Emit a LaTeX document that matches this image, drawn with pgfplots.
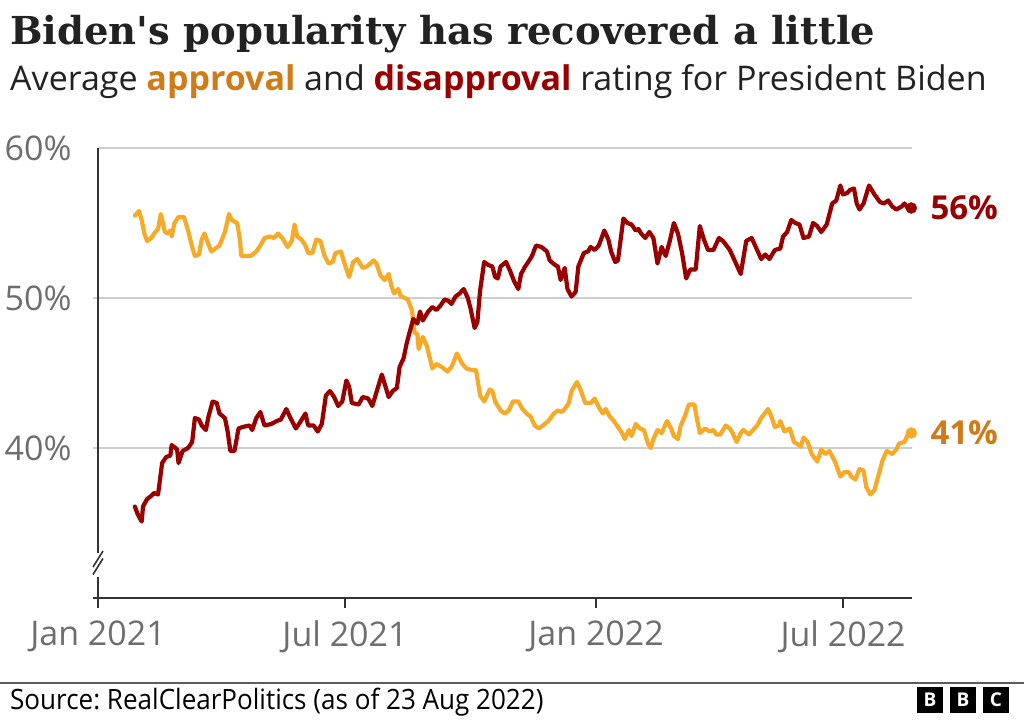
\documentclass[border=0pt]{standalone}
\usepackage{fontspec}
\setmainfont{Open Sans}
\newfontfamily\titlefont{DejaVu Serif}
\newfontfamily\condfont[FakeStretch=0.93]{Open Sans}
\usepackage{pgfplots}
\pgfplotsset{compat=1.18}
\definecolor{appr}{RGB}{247,169,40}
\definecolor{apprtxt}{RGB}{207,124,24}
\definecolor{disa}{RGB}{153,0,0}
\definecolor{gridc}{RGB}{206,206,206}
\definecolor{tickc}{RGB}{110,110,110}
\definecolor{axc}{RGB}{51,51,51}
\definecolor{titlec}{RGB}{34,34,34}
\frenchspacing
\begin{document}
\begin{tikzpicture}
\useasboundingbox (0pt,0pt) rectangle (1024pt,720pt);
\fill[white] (0pt,0pt) rectangle (1024pt,720pt);
% titles
\node[anchor=base west, inner sep=0pt, text=titlec, font=\titlefont\bfseries\fontsize{38.5}{38.5}\selectfont] at (10pt,675pt) {Biden's popularity has recovered a little};
\node[anchor=base west, inner sep=0pt, text=titlec, font=\fontsize{34}{34}\selectfont] at (10pt,629pt) {Average \textcolor{apprtxt}{\bfseries approval} and \textcolor{disa}{\bfseries disapproval} rating for President Biden};
\begin{axis}[
  at={(98pt,122pt)}, anchor=south west, scale only axis,
  width=814pt, height=450pt,
  xmin=0, xmax=596.5, ymin=30, ymax=60,
  axis x line=bottom, axis y line=left,
  axis line style={draw=none},
  clip=false,
  ytick={40,50,60}, yticklabels={40\%,50\%,60\%},
  ymajorgrids, grid style={gridc, line width=1.3pt},
  ytick style={draw=none},
  yticklabel style={font=\fontsize{34}{34}\selectfont, text=tickc, anchor=east, inner sep=0pt, xshift=-22pt},
  xtick={0,181,365,546}, xticklabels={Jan 2021,Jul 2021,Jan 2022,Jul 2022},
  tick align=outside,
  xtick style={draw=axc, line width=1.6pt, /pgfplots/major tick length=10pt},
  xticklabel style={font=\fontsize{34}{34}\selectfont, text=tickc, anchor=north, inner sep=0pt, yshift=-18pt},
]
% axis lines and break
\draw[gridc, line width=1.3pt] (axis cs:0,40) -- ++(-5pt,0pt);
\draw[gridc, line width=1.3pt] (axis cs:0,50) -- ++(-5pt,0pt);
\draw[axc, line width=1.8pt] (axis cs:0,30) ++(-5pt,0pt) -- (axis cs:596.5,30);
\draw[axc, line width=1.8pt] (axis cs:0,60) -- (axis cs:0,33.0);
\draw[axc, line width=1.8pt] (axis cs:0,31.4) -- (axis cs:0,30);
\draw[axc, line width=1.6pt] (axis cs:0,32.6) ++(5pt,8pt) -- ++(-10pt,-16pt);
\draw[axc, line width=1.6pt] (axis cs:0,32.1) ++(5pt,8pt) -- ++(-10pt,-16pt);
% approval
\addplot[appr, line width=4.2pt, line join=round, line cap=round] coordinates {
(27,55.5)(30,55.8)(32,55.2)(34,54.3)(36,53.8)(39,54.0)(42,54.4)(44,54.6)(46,55.6)(49,54.4)(51,54.3)(53,54.5)(54,54.1)(56,55.0)(59,55.4)(63,55.4)(66,54.5)(69,53.4)(71,52.8)(74,52.9)(76,53.9)(78,54.3)(80,53.8)(83,53.1)(86,53.3)(89,53.5)(93,54.4)(96,55.6)(98,55.2)(102,55.0)(104,53.9)(105,52.8)(109,52.8)(112,52.8)(116,53.1)(119,53.5)(122,54.0)(126,54.1)(129,54.0)(132,54.3)(135,54.0)(139,53.4)(142,53.8)(144,54.9)(146,54.1)(149,53.9)(152,53.5)(154,53.0)(157,53.0)(160,53.9)(163,53.8)(166,52.8)(169,52.3)(172,52.4)(174,53.0)(178,53.1)(181,52.2)(184,51.4)(187,52.4)(190,52.6)(194,52.0)(197,52.1)(202,52.5)(204,52.3)(207,51.5)(210,51.2)(213,51.6)(215,50.8)(217,50.3)(220,50.6)(222,50.1)(225,50.0)(227,49.9)(230,49.2)(232,47.7)(234,47.6)(235,46.6)(238,47.4)(241,46.8)(245,45.3)(248,45.6)(252,45.4)(256,45.1)(259,45.4)(263,46.3)(267,45.6)(270,45.3)(274,45.2)(277,45.2)(280,43.5)(283,43.1)(287,43.9)(289,43.8)(291,43.1)(295,42.5)(298,42.3)(301,42.5)(304,43.1)(308,43.1)(311,42.6)(314,42.3)(317,42.1)(320,41.5)(323,41.3)(326,41.5)(330,41.8)(334,42.3)(337,42.5)(340,42.4)(342,42.6)(345,43.0)(347,43.8)(351,44.4)(354,43.8)(357,43.0)(361,43.0)(364,43.3)(367,42.7)(370,42.3)(372,42.6)(375,42.1)(378,41.8)(381,41.4)(384,41.0)(386,40.6)(389,41.2)(391,40.8)(394,41.6)(397,41.3)(400,41.2)(403,40.3)(405,40.0)(407,40.6)(410,41.2)(413,41.0)(417,41.8)(420,41.3)(422,40.8)(425,40.6)(427,41.5)(430,42.1)(433,42.9)(437,42.9)(439,41.9)(441,41.0)(445,41.3)(448,41.1)(451,41.2)(453,40.9)(456,40.9)(460,41.5)(463,41.3)(465,41.0)(468,40.4)(471,41.0)(473,41.2)(477,40.9)(480,41.2)(483,41.5)(486,42.0)(491,42.6)(493,42.2)(496,41.4)(499,41.5)(500,41.8)(503,41.1)(507,41.3)(510,40.4)(512,40.3)(515,40.1)(517,40.7)(520,40.4)(523,39.6)(527,39.1)(530,39.9)(533,39.6)(536,39.8)(540,39.1)(544,38.1)(547,38.4)(550,38.4)(552,38.1)(555,37.9)(558,38.6)(561,38.5)(563,37.4)(566,36.9)(569,37.2)(572,38.2)(575,39.2)(578,39.8)(582,39.6)(585,39.9)(587,40.3)(591,40.4)(594,41.0)(596,41.0)
};
% disapproval
\addplot[disa, line width=4.2pt, line join=round, line cap=round] coordinates {
(27,36.1)(29,35.6)(32,35.1)(33,36.1)(36,36.6)(39,36.8)(41,37.0)(44,36.9)(47,39.0)(50,39.4)(53,39.5)(54,40.2)(58,39.9)(59,39.0)(62,39.8)(66,40.0)(69,40.4)(71,42.0)(74,41.9)(76,41.5)(79,41.2)(81,42.1)(84,43.1)(87,43.0)(89,42.3)(93,42.0)(95,41.1)(97,39.8)(100,39.8)(103,41.3)(106,41.4)(111,41.5)(113,41.2)(116,42.0)(119,42.4)(122,41.5)(127,41.6)(131,41.8)(134,41.9)(138,42.6)(141,42.0)(145,41.3)(148,41.7)(152,42.3)(154,41.5)(158,41.5)(161,41.1)(164,41.6)(167,43.5)(170,43.8)(173,43.4)(176,42.8)(179,43.1)(182,44.5)(184,44.1)(186,43.0)(191,42.9)(194,43.4)(198,43.3)(201,42.8)(204,43.7)(208,44.9)(213,43.4)(216,43.8)(219,44.0)(221,45.4)(224,46.0)(226,46.9)(228,47.6)(231,48.6)(234,48.3)(236,49.1)(238,48.5)(242,49.1)(245,49.4)(248,49.2)(251,49.5)(254,49.9)(257,49.8)(259,49.6)(262,50.1)(265,50.3)(268,50.6)(271,50.0)(273,49.3)(276,48.0)(278,48.4)(280,50.5)(283,52.4)(286,52.2)(289,52.1)(291,51.4)(293,51.3)(295,52.1)(299,52.4)(302,51.8)(305,51.1)(308,50.6)(310,51.6)(313,52.1)(316,52.5)(318,52.8)(321,53.5)(325,53.4)(329,53.1)(331,52.5)(335,52.2)(337,52.1)(339,51.2)(342,52.0)(344,50.6)(347,50.1)(350,50.4)(352,52.1)(356,53.0)(359,53.1)(361,53.4)(364,53.2)(367,53.5)(371,54.5)(374,53.9)(376,53.1)(379,52.4)(381,52.5)(385,55.3)(388,55.0)(391,54.9)(394,54.5)(396,54.6)(398,54.3)(401,54.0)(404,54.4)(407,54.0)(410,52.3)(413,53.4)(416,52.8)(419,53.8)(422,55.0)(425,54.3)(428,53.0)(431,51.3)(434,51.9)(438,51.9)(441,54.8)(444,53.9)(447,53.2)(451,53.2)(455,54.0)(458,53.8)(463,53.2)(467,52.4)(471,51.6)(475,53.8)(479,54.0)(483,53.2)(486,52.6)(489,52.9)(492,52.6)(496,53.2)(500,53.3)(502,54.1)(505,54.4)(508,55.2)(511,55.0)(514,54.9)(517,54.0)(521,54.1)(524,55.0)(527,54.8)(530,54.4)(534,54.9)(538,56.3)(541,56.5)(544,57.5)(546,56.9)(549,57.0)(551,57.2)(554,57.3)(556,56.3)(558,55.9)(561,56.3)(565,57.5)(569,56.9)(573,56.4)(576,56.3)(579,56.5)(582,56.1)(585,55.9)(589,56.1)(591,56.3)(595,55.8)(596,56.0)
};
\addplot[appr, only marks, mark=*, mark size=5.5pt] coordinates {(596,41.0)};
\addplot[disa, only marks, mark=*, mark size=5.5pt] coordinates {(596,56.0)};
\node[anchor=west, inner sep=0pt, text=disa, font=\bfseries\fontsize{33}{33}\selectfont] at (axis cs:596,56.0) [xshift=19pt] {56\%};
\node[anchor=west, inner sep=0pt, text=apprtxt, font=\bfseries\fontsize{33}{33}\selectfont] at (axis cs:596,41.0) [xshift=19pt] {41\%};
\end{axis}
% footer
\draw[axc!80, line width=2pt] (0pt,37pt) -- (1024pt,37pt);
\node[anchor=base west, inner sep=0pt, text=black, font=\condfont\fontsize{28}{28}\selectfont] at (10pt,11pt) {Source: RealClearPolitics (as of 23 Aug 2022)};
\foreach \xx/\ll in {917/B,950/B,983/C}{
  \fill[black] (\xx pt,7pt) rectangle ++(26pt,26pt);
  \node[text=white, font=\bfseries\fontsize{19}{19}\selectfont, inner sep=0pt] at (\xx pt+13pt,20pt) {\ll};
}
\end{tikzpicture}
\end{document}
